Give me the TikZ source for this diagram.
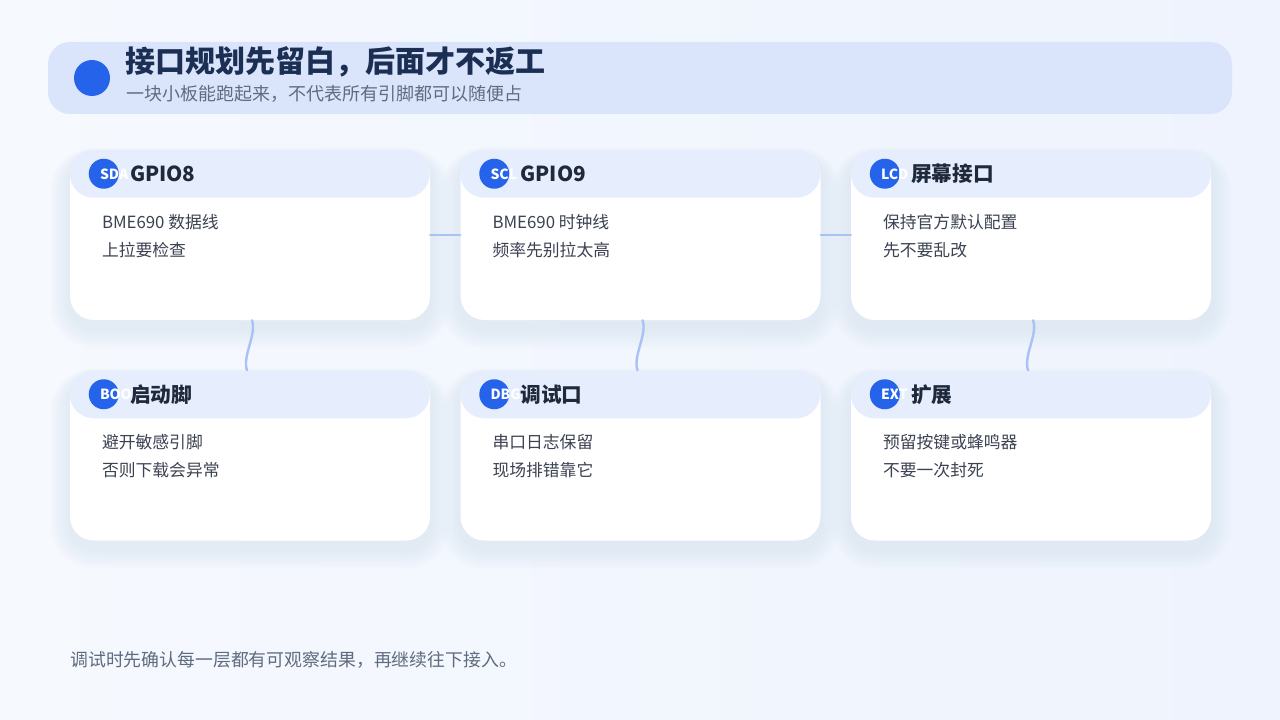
\documentclass[tikz,border=0pt]{standalone}
\usepackage{fontspec}
\setmainfont{Noto Sans CJK SC}
\usetikzlibrary{positioning,calc,backgrounds}

\definecolor{accent}{HTML}{2563EB}
\definecolor{navy}{HTML}{1B2F55}
\definecolor{ink}{HTML}{1E293B}
\definecolor{bodyc}{HTML}{3B4252}
\definecolor{muted}{HTML}{5F6B7F}
\definecolor{bandc}{HTML}{DAE4FB}
\definecolor{hdrc}{HTML}{E6EDFC}
\definecolor{linkc}{HTML}{A9C1F5}
\definecolor{shadc}{HTML}{C9D7F4}
\definecolor{bgA}{HTML}{F6F9FE}
\definecolor{bgB}{HTML}{EEF3FD}

\begin{document}
\begin{tikzpicture}[
  x=0.75pt, y=-0.75pt,
  node distance=37.5pt and 22.5pt,
  card/.style={fill=white, rounded corners=18pt, minimum width=270pt, minimum height=127.5pt, inner sep=0pt},
  badge/.style={circle, fill=accent, minimum size=22.5pt, inner sep=0pt},
  badgetxt/.style={text=white, font=\fontsize{10.5}{11}\selectfont\bfseries, inner sep=0pt},
  ctitle/.style={text=ink, font=\fontsize{15.5}{17}\selectfont\bfseries, inner sep=0pt},
  bodytxt/.style={text=bodyc, font=\fontsize{12.6}{21}\selectfont, align=left, inner sep=0pt},
  link/.style={draw=linkc, line width=1.8pt, line cap=round}
]
% header band
\fill[bandc, rounded corners=16.5pt] (48,42) rectangle (1232,114);
\node[circle, fill=accent, minimum size=27pt, inner sep=0pt] (dot) at (92,78) {};
\node[anchor=west, text=navy, font=\fontsize{22.5}{26}\selectfont\bfseries, inner sep=0pt] (title) at (125,62) {接口规划先留白，后面才不返工};
\node[anchor=west, text=muted, font=\fontsize{13.5}{15}\selectfont, inner sep=0pt] (subtitle) at (126,94) {一块小板能跑起来，不代表所有引脚都可以随便占};

% cards
\node[card] (sda) at (250,235) {};
\node[card, right=of sda] (scl) {};
\node[card, right=of scl] (lcd) {};
\node[card, below=of sda] (boot) {};
\node[card, below=of scl] (dbg) {};
\node[card, below=of lcd] (ext) {};

\foreach \n/\b/\t/\l/\m in {
  sda/SDA/GPIO8/BME690 数据线/上拉要检查,
  scl/SCL/GPIO9/BME690 时钟线/频率先别拉太高,
  lcd/LCD/屏幕接口/保持官方默认配置/先不要乱改,
  boot/BOOT/启动脚/避开敏感引脚/否则下载会异常,
  dbg/DBG/调试口/串口日志保留/现场排错靠它,
  ext/EXT/扩展/预留按键或蜂鸣器/不要一次封死} {
  \fill[hdrc, rounded corners=18pt] (\n.north west) rectangle ++(360,48);
  \node[badge] (\n-b) at ($(\n.north west)+(34,24)$) {};
  \node[badgetxt, anchor=west] at ($(\n-b.center)+(-4,0.5)$) {\b};
  \node[ctitle, anchor=west] (\n-t) at ($(\n.north west)+(60,24)$) {\t};
  \node[bodytxt, anchor=west] (\n-d) at ($(\n.north west)+(32,86)$) {\l\\\m};
}

% connectors
\draw[link] (sda.east) -- (scl.west);
\draw[link] (scl.east) -- (lcd.west);
\foreach \a/\c in {sda/boot, scl/dbg, lcd/ext}
  \draw[link] ($(\a.south)+(2,0)$) .. controls +(5,14) and +(-5,-14) .. ($(\c.north)+(-3,0)$);

\node[anchor=west, text=muted, font=\fontsize{13.4}{15}\selectfont, inner sep=0pt] (note) at (70,660) {调试时先确认每一层都有可观察结果，再继续往下接入。};

\begin{scope}[on background layer]
  \fill[left color=bgA, right color=bgB] (0,0) rectangle (1280,720);
  \foreach \n in {sda, scl, lcd, boot, dbg, ext}
    \foreach \k in {1,...,10}
      \fill[shadc, opacity=0.035, rounded corners=18pt+\k*1.5pt]
        ($(\n.north west)+(-\k*2,-\k*1+8)$) rectangle ($(\n.south east)+(\k*2,\k*2+8)$);
\end{scope}
\useasboundingbox (0,0) rectangle (1280,720);
\end{tikzpicture}
\end{document}
